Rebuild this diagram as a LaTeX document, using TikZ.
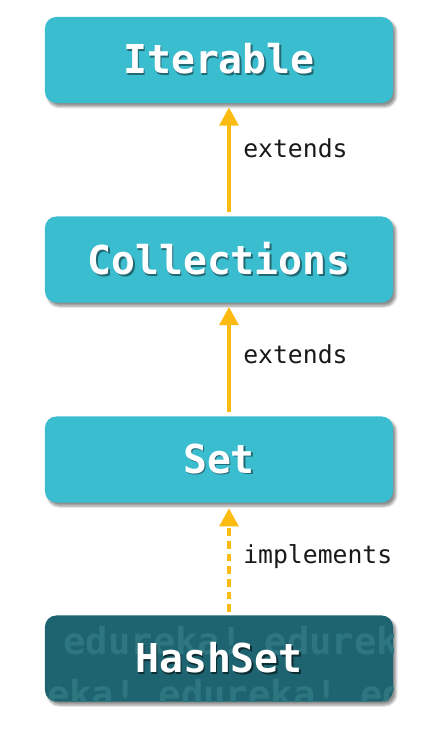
\documentclass[tikz,border=0pt]{standalone}
\usepackage{fontspec}
\setmonofont{DejaVu Sans Mono}
\usepackage{xcolor}
\usetikzlibrary{arrows.meta,shadows.blur}

\definecolor{boxblue}{RGB}{59,189,208}
\definecolor{boxdark}{RGB}{29,100,112}
\definecolor{arrowyel}{RGB}{252,187,17}
\definecolor{txtshade}{RGB}{35,105,115}
\definecolor{markdark}{RGB}{45,118,128}

\newcommand{\shadowed}[2]{\rlap{\kern1.3pt\raisebox{-1.3pt}{\textcolor{#1}{#2}}}#2}

\begin{document}
\begin{tikzpicture}[x=0.025cm,y=-0.025cm]
	\useasboundingbox (0,0) rectangle (440,750);
	\tikzstyle{cls} = [rounded corners=8pt, minimum width=8.7cm, minimum height=2.15cm, inner sep=0pt, text=white,
		font=\ttfamily\bfseries\fontsize{28.3}{30}\selectfont,
		blur shadow={shadow xshift=2pt, shadow yshift=-2.5pt, shadow blur steps=6, shadow opacity=45}]
	\tikzstyle{lbl} = [anchor=base west, inner sep=0pt, text=black!90, font=\ttfamily\fontsize{17.6}{20}\selectfont]
	\tikzstyle{wm} = [anchor=base west, inner sep=0pt, text=markdark, font=\ttfamily\bfseries\fontsize{26.4}{28}\selectfont]
	\tikzstyle{ext} = [draw=arrowyel, line width=3.5pt, -{Triangle[length=13pt,width=13pt,fill=arrowyel]}]

	\node [cls,fill=boxblue] (iter) at (219,60) {\shadowed{txtshade}{Iterable}};
	\node [cls,fill=boxblue] (coll) at (219,259.5) {\shadowed{txtshade}{Collections}};
	\node [cls,fill=boxblue] (set) at (219,459.5) {\shadowed{txtshade}{Set}};
	\node [cls,fill=boxdark,
		path picture={
			\node [wm] at ([xshift=8.5pt,yshift=-27.6pt]path picture bounding box.north west) {edureka! edurek};
			\node [wm] at ([xshift=1.4pt,yshift=-65.2pt]path picture bounding box.north west) {eka! edureka! ed};
		}] (hs) at (219,658.5) {\shadowed{boxdark!45!black}{HashSet}};

	\draw [ext] ([xshift=7.1pt,yshift=2.8pt]coll.north) -- ([xshift=7.1pt,yshift=-2.8pt]iter.south);
	\draw [ext] ([xshift=7.1pt,yshift=2.8pt]set.north) -- ([xshift=7.1pt,yshift=-2.8pt]coll.south);
	\draw [ext, dash pattern=on 5.5pt off 3.5pt] ([xshift=7.1pt,yshift=2.2pt]hs.north) -- ([xshift=7.1pt,yshift=-3.8pt]set.south);

	\node [lbl] (l1) at (243,157) {extends};
	\node [lbl] (l2) at (243,363) {extends};
	\node [lbl] (l3) at (243,563) {implements};

\end{tikzpicture}
\end{document}
